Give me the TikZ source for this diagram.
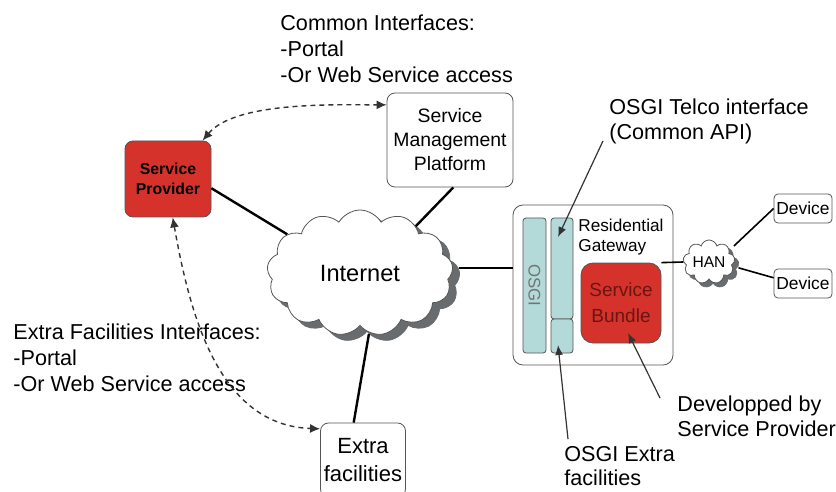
\documentclass[tikz,border=0pt]{standalone}
\usepackage{fontspec}
\setmainfont{Liberation Sans}
\usetikzlibrary{shapes.symbols,arrows.meta}

\definecolor{spred}{RGB}{214,50,44}
\definecolor{osgiblue}{RGB}{180,217,217}
\definecolor{sbtext}{RGB}{105,22,18}
\definecolor{edgegray}{RGB}{85,85,85}
\definecolor{shadegray}{RGB}{105,108,110}
\newcommand{\setfs}[2]{\fontsize{#1}{#2}\selectfont}

\tikzset{
  box/.style={draw=edgegray, fill=white, rounded corners=4pt, align=center, inner sep=0pt},
  redbox/.style={box, fill=spred},
  bar/.style={draw=edgegray, fill=osgiblue, rounded corners=1.5pt, inner sep=0pt},
  net/.style={cloud, draw=edgegray, fill=white, cloud ignores aspect, inner sep=0pt},
  netshade/.style={cloud, draw=shadegray, fill=shadegray, cloud ignores aspect, inner sep=0pt},
  link/.style={line width=1.2pt},
  thinlink/.style={line width=0.8pt},
  dasharrow/.style={{Latex[length=5pt,width=4.5pt]}-{Latex[length=5pt,width=4.5pt]},
    line width=0.7pt, dash pattern=on 2.5pt off 2pt, black!80},
  pointer/.style={-{Latex[length=5pt,width=4pt]}, line width=0.6pt, black!80},
  note/.style={anchor=north west, align=left, inner sep=0pt, font=\setfs{10.8}{12.5}},
}

\begin{document}
\begin{tikzpicture}[x=0.5pt, y=-0.5pt]
  \useasboundingbox (0,0) rectangle (836,492);
  \clip (0,0) rectangle (836,492);
  % main blocks
  \node[box, minimum width=63pt, minimum height=47pt, font=\setfs{9.7}{12}] (smp) at (450,140) {Service\\Management\\Platform};
  \node[redbox, minimum width=43pt, minimum height=38pt, font=\setfs{7.9}{10}\bfseries] (sp) at (168,179) {Service\\Provider};
  \node[netshade, cloud puffs=13, cloud puff arc=120, minimum width=93pt, minimum height=63pt, font=\setfs{11.8}{14}] (internetshade) at (367,279) {\phantom{Internet}};
  \node[net, cloud puffs=13, cloud puff arc=120, minimum width=93pt, minimum height=63pt, font=\setfs{11.8}{14}] (internet) at (360,273) {Internet};
  \node[box, minimum width=42.5pt, minimum height=37pt, font=\setfs{11}{14}] (extra) at (363,460) {Extra\\facilities};
  % residential gateway
  \node[box, rounded corners=5pt, minimum width=80pt, minimum height=80pt] (rg) at (593,285) {};
  \node[bar, rotate=-90, minimum width=67.5pt, minimum height=11.5pt, text=black!55, font=\setfs{8.4}{10}] (osgi) at (534.5,285.5) {OSGI};
  \node[bar, minimum width=11pt, minimum height=50.5pt] (api) at (562,268.5) {};
  \node[bar, minimum width=11pt, minimum height=17pt] (ext) at (562,336) {};
  \node[anchor=north west, align=left, inner sep=0pt, font=\setfs{8.6}{10}] (rglabel) at (578,219) {Residential\\Gateway};
  \node[redbox, rounded corners=6pt, minimum width=40pt, minimum height=40pt, text=sbtext, font=\setfs{9.5}{13}] (sb) at (621,303) {Service\\Bundle};
  % home network
  \node[netshade, cloud puffs=9, minimum width=26pt, minimum height=22pt, font=\setfs{7.8}{9}] (hanshade) at (713,266) {\phantom{HAN}};
  \node[net, cloud puffs=9, minimum width=26pt, minimum height=22pt, font=\setfs{7.8}{9}] (han) at (709,262) {HAN};
  \node[box, rounded corners=2pt, minimum width=29pt, minimum height=14.5pt, font=\setfs{8.7}{10}] (dev1) at (803,208.5) {Device};
  \node[box, rounded corners=2pt, minimum width=29pt, minimum height=14.5pt, font=\setfs{8.7}{10}] (dev2) at (803,283.5) {Device};
  % notes
  \node[note, font=\setfs{10.8}{13}] (common) at (280,14) {Common Interfaces:\\-Portal\\-Or Web Service access};
  \node[note, font=\setfs{10.8}{13}] (extranote) at (13,323) {Extra Facilities Interfaces:\\-Portal\\-Or Web Service access};
  \node[note] (telco) at (609,98) {OSGI Telco interface\\(Common API)};
  \node[note, font=\setfs{10.8}{12}] (oextnote) at (564,446) {OSGI Extra\\facilities};
  \node[note] (devnote) at (677,395) {Developped by\\Service Provider};
  % pointer tips
  \coordinate (apitip) at (558,237);
  \coordinate (exttip) at (558,345);
  \coordinate (sbtip) at (628,333);
  % links
  \draw[link] (sp.-12) -- (internet.152);
  \draw[link] (smp.-86) -- (internet.40);
  \draw[link] (internetshade.7) -- (internetshade.7 -| rg.west);
  \draw[link] (internetshade.-88) -- (extra.104);
  \draw[thinlink] (sb.north east) -- (han.west);
  \draw[thinlink, shorten <=3pt] (han.30) -- (dev1.west);
  \draw[thinlink, shorten <=3pt] (han.-10) -- (dev2.169);
  % interfaces
  \draw[dasharrow] (sp.48) to[out=50, in=180, looseness=0.7] (smp.151);
  \draw[dasharrow] (sp.-83) to[out=-80, in=178] (extra.144);
  % callouts
  \draw[pointer] ([xshift=-3pt,yshift=1.5pt]telco.south west) -- (apitip);
  \draw[pointer] ([xshift=2pt,yshift=3.5pt]oextnote.north west) -- (exttip);
  \draw[pointer] ([xshift=-8.5pt,yshift=-1.5pt]devnote.north west) -- (sbtip);
\end{tikzpicture}
\end{document}
